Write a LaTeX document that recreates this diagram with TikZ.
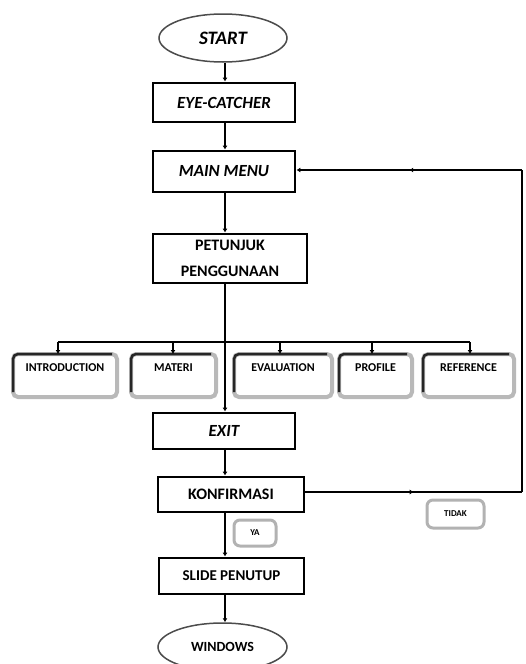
\documentclass[tikz,border=0pt]{standalone}
\usepackage{fontspec}
\setmainfont{Carlito}
\usetikzlibrary{shapes.geometric,arrows.meta,decorations.markings}
\begin{document}
\begin{tikzpicture}[x=1pt,y=-1pt,
  conn/.style={line width=2.6pt, black},
  arr/.style={conn,-{Latex[length=4pt,width=5pt]}},
  midarr/.style={conn, postaction={decorate}, decoration={markings, mark=at position 0.5 with {\arrow{Latex[length=4pt,width=5pt]}}}},
  box/.style={draw, line width=2.8pt, fill=white, inner sep=0pt, font=\fontsize{17}{20}\selectfont\bfseries, align=center},
  ibox/.style={box, font=\fontsize{17}{20}\selectfont\bfseries\itshape},
  term/.style={ellipse, draw=black!70, line width=1.5pt, fill=white, inner sep=0pt, minimum width=128pt, minimum height=48pt},
  menu/.style={rectangle, rounded corners=5pt, draw=gray!55, line width=4pt, fill=white, outer sep=0pt, inner xsep=2pt, inner ysep=4pt,
    text height=13pt, text depth=22pt, font=\fontsize{12}{13}\selectfont\bfseries},
  tag/.style={rectangle, rounded corners=6pt, draw=gray!60, line width=3pt, fill=white, inner sep=0pt, font=\fontsize{9}{10}\selectfont\bfseries},
  edge1/.style={black!85, line width=2.5pt, rounded corners=5pt}
]
\useasboundingbox (0,0) rectangle (525,664);

% terminals and process boxes
\node[term, font=\fontsize{19}{20}\selectfont\bfseries\itshape] (start) at (223,38) {START};
\node[ibox, minimum width=142pt, minimum height=39pt] (eye) at (224,102.5) {EYE-CATCHER};
\node[ibox, minimum width=142pt, minimum height=41pt] (main) at (224,171.5) {MAIN MENU};
\node[box, minimum width=154pt, minimum height=49pt, font=\fontsize{16}{26}\selectfont\bfseries] (pet) at (230,258.5) {PETUNJUK\\PENGGUNAAN};

% menu items
\node[menu, minimum width=104pt, minimum height=41pt] (intro) at (65,375.5) {INTRODUCTION};
\node[menu, minimum width=85pt, minimum height=41pt] (mat) at (173.5,375.5) {MATERI};
\node[menu, minimum width=98pt, minimum height=41pt] (eval) at (283,375.5) {EVALUATION};
\node[menu, minimum width=73pt, minimum height=41pt] (prof) at (375.5,375.5) {PROFILE};
\node[menu, minimum width=91pt, minimum height=41pt] (ref) at (468.5,375.5) {REFERENCE};
\foreach \n in {intro,mat,eval,prof,ref}{
  \draw[edge1] ([yshift=5pt]\n.south west) |- ([xshift=-5pt]\n.north east);
}

\node[ibox, minimum width=142pt, minimum height=36pt] (exit) at (224,431) {EXIT};
\node[box, minimum width=146pt, minimum height=35pt, font=\fontsize{16}{20}\selectfont\bfseries] (konf) at (231,494.5) {KONFIRMASI};
\node[tag, minimum width=42pt, minimum height=26pt] (ya) at (255,533) {YA};
\node[tag, minimum width=57pt, minimum height=28pt] (tidak) at (455.5,514) {TIDAK};
\node[box, minimum width=145pt, minimum height=36pt, font=\fontsize{15}{20}\selectfont\bfseries] (slide) at (231.5,576) {SLIDE PENUTUP};
\node[term, minimum width=129pt, font=\fontsize{14}{16}\selectfont\bfseries] (win) at (222.5,647) {WINDOWS};

% main vertical flow
\coordinate (v) at (225,0);
\draw[arr] (start.south -| v) -- (eye.north -| v);
\draw[arr] (eye.south -| v) -- (main.north -| v);
\draw[arr] (main.south -| v) -- (pet.north -| v);
\draw[arr] (pet.south -| v) -- (exit.north -| v);
\draw[arr] (exit.south -| v) -- (konf.north -| v);
\draw[arr] (konf.south -| v) -- (slide.north -| v);
\draw[arr] (slide.south -| v) -- (win.north -| v);

% branch to menu items
\coordinate (b1) at (58,342);
\coordinate (b2) at (173,342);
\coordinate (b3) at (280,342);
\coordinate (b4) at (372,342);
\coordinate (b5) at (470,342);
\draw[conn] (b1) -- (b5);
\draw[arr] (b1) -- (b1 |- intro.north);
\draw[arr] (b2) -- (b2 |- mat.north);
\draw[arr] (b3) -- (b3 |- eval.north);
\draw[arr] (b4) -- (b4 |- prof.north);
\draw[arr] (b5) -- (b5 |- ref.north);

% loop back from KONFIRMASI to MAIN MENU
\coordinate (r1) at (522,492);
\coordinate (r2) at (522,170);
\draw[midarr] (konf.east |- r1) -- (r1);
\draw[conn] (r1) -- (r2);
\draw[midarr, -{Latex[length=4pt,width=5pt]}] (r2) -- (main.east |- r2);
\end{tikzpicture}
\end{document}
